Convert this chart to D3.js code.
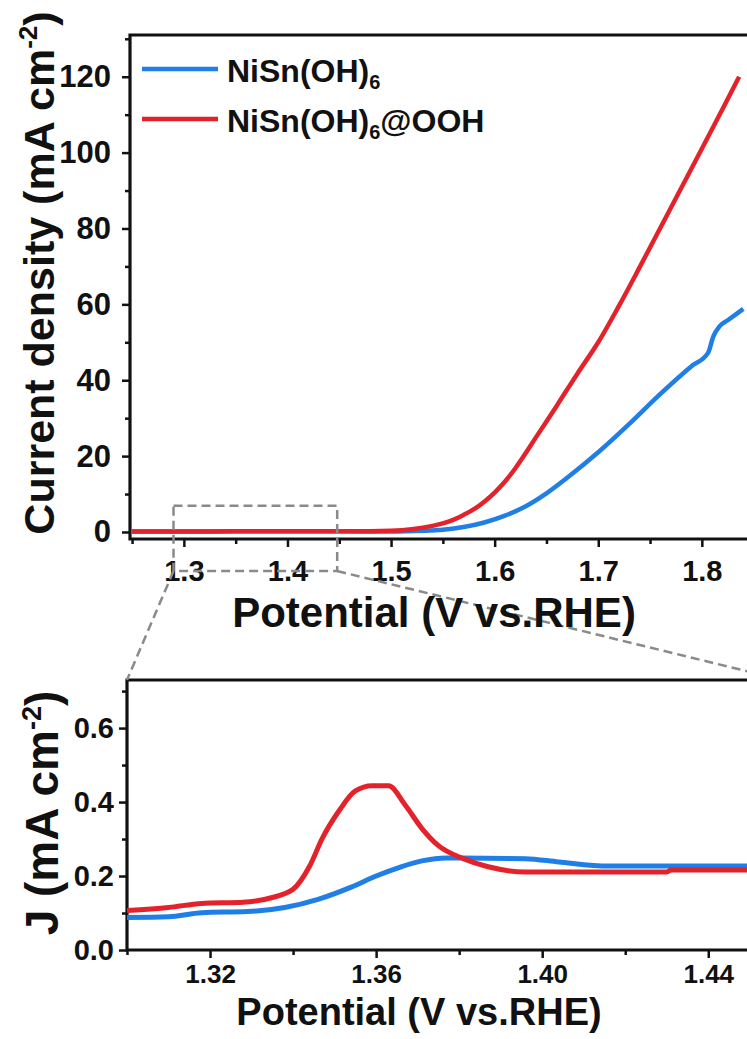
<!DOCTYPE html>
<html>
<head>
<meta charset="utf-8">
<script src="https://cdn.jsdelivr.net/npm/d3@7"></script>
<style>
  body { margin: 0; background: #fff; }
  text { font-family: "Liberation Sans", Arial, sans-serif; font-weight: bold; fill: #111; }
</style>
</head>
<body>
<div id="vis"></div>
<script>
var width = 747
var height = 1039

// top panel, full LSV scan (V vs RHE, mA cm-2)
var vTopBlue = [1.25, 1.30, 1.35, 1.40, 1.45, 1.50, 1.53, 1.55, 1.57, 1.59, 1.61, 1.63, 1.65, 1.67, 1.70, 1.73, 1.76, 1.79, 1.806, 1.811, 1.817, 1.825, 1.84]
var jTopBlue = [0.1, 0.1, 0.2, 0.2, 0.2, 0.1, 0.3, 0.6, 1.3, 2.5, 4.3, 6.8, 10.2, 14.3, 21.0, 28.5, 36.4, 43.7, 47.2, 51.5, 54.2, 55.8, 58.8]
var vTopRed = [1.25, 1.30, 1.35, 1.40, 1.45, 1.48, 1.50, 1.52, 1.54, 1.56, 1.57, 1.58, 1.59, 1.60, 1.61, 1.62, 1.63, 1.64, 1.66, 1.68, 1.70, 1.72, 1.74, 1.76, 1.78, 1.80, 1.82, 1.836]
var jTopRed = [0.1, 0.1, 0.2, 0.2, 0.2, 0.2, 0.3, 0.7, 1.6, 3.2, 4.5, 6.0, 8.0, 10.4, 13.3, 16.8, 20.8, 25.0, 33.3, 41.8, 50.0, 59.6, 69.8, 80.2, 90.6, 101.0, 111.5, 120]

// bottom panel, zoom on the pre-oxidation region
var vBotBlue = [1.300, 1.310, 1.318, 1.329, 1.338, 1.346, 1.354, 1.360, 1.366, 1.371, 1.377, 1.396, 1.404, 1.416, 1.458]
var jBotBlue = [0.088, 0.090, 0.101, 0.104, 0.115, 0.137, 0.170, 0.200, 0.225, 0.241, 0.249, 0.247, 0.238, 0.227, 0.227]
var vBotRed = [1.300, 1.310, 1.318, 1.328, 1.335, 1.340, 1.344, 1.347, 1.351, 1.355, 1.359, 1.363, 1.367, 1.371, 1.375, 1.381, 1.387, 1.396, 1.430, 1.431, 1.458]
var jBotRed = [0.107, 0.115, 0.126, 0.129, 0.142, 0.164, 0.227, 0.301, 0.375, 0.430, 0.444, 0.444, 0.392, 0.329, 0.282, 0.247, 0.225, 0.211, 0.211, 0.216, 0.216]

var seriesNames = ["NiSn(OH)", "NiSn(OH)"]
var seriesColors = ["#1f7fe6", "#e3222b"]

var topXTicks = [1.3, 1.4, 1.5, 1.6, 1.7, 1.8]
var topYTicks = [0, 20, 40, 60, 80, 100, 120]
var botXTicks = [1.32, 1.36, 1.40, 1.44]
var botYTicks = [0.0, 0.2, 0.4, 0.6]

// zoom window marked in the top panel
var zoomV = [1.29, 1.448]
var zoomJ = [-10.3, 6.9]

var svg = d3.select("#vis")
  .append("svg")
  .attr("width", width)
  .attr("height", height)
  .style("display", "block")
  .style("background-color", "white")

var xTop = d3.scaleLinear().domain([1.248, 1.86]).range([130, 764])
var yTop = d3.scaleLinear().domain([-1.85, 131]).range([539, 35])
var xBot = d3.scaleLinear().domain([1.30, 1.458]).range([127, 783])
var yBot = d3.scaleLinear().domain([0, 0.73]).range([950, 680])

function pairs(xs, ys) { return xs.map((v, i) => [v, ys[i]]) }

function drawPanel(x, y, xTicks, yTicks, xMinor, yMinor, fmtX, fmtY, o) {
  var g = svg.append("g")
  var x0 = x.range()[0], x1 = x.range()[1], y0 = y.range()[0], y1 = y.range()[1]

  // minor ticks
  g.append("g").attr("transform", `translate(0,${y0})`)
    .call(d3.axisBottom(x).tickValues(xMinor).tickSize(o.minor).tickFormat("").tickSizeOuter(0))
  g.append("g").attr("transform", `translate(${x0},0)`)
    .call(d3.axisLeft(y).tickValues(yMinor).tickSize(o.minor).tickFormat("").tickSizeOuter(0))

  var ax = g.append("g").attr("transform", `translate(0,${y0})`)
    .call(d3.axisBottom(x).tickValues(xTicks).tickSize(8).tickPadding(o.padX).tickFormat(fmtX).tickSizeOuter(0))
  ax.attr("font-size", o.fsX).attr("font-family", null)
  ax.selectAll("text").style("font-size", o.fsX + "px").attr("fill", "#111")
  var ay = g.append("g").attr("transform", `translate(${x0},0)`)
    .call(d3.axisLeft(y).tickValues(yTicks).tickSize(8).tickPadding(o.padY).tickFormat(fmtY).tickSizeOuter(0))
  ay.attr("font-size", o.fsY).attr("font-family", null)
  ay.selectAll("text").style("font-size", o.fsY + "px").attr("fill", "#111")

  g.selectAll(".tick line").attr("stroke", "#111").attr("stroke-width", 2.5)
  g.selectAll(".domain").remove()

  // frame: left, bottom, top
  g.append("path")
    .attr("d", `M${x1},${y1}H${x0}V${y0}H${x1}`)
    .attr("fill", "none").attr("stroke", "#111").attr("stroke-width", 3.2)
  return g
}

function range(a, b, s) { var r = []; for (var v = a; v <= b + 1e-9; v += s) r.push(+v.toFixed(3)); return r }

drawPanel(xTop, yTop, topXTicks, topYTicks,
  range(1.25, 1.85, 0.05).filter(v => topXTicks.indexOf(v) < 0),
  range(10, 130, 20),
  d3.format(".1f"), d3.format("d"),
  { minor: 5, padX: 13, padY: 11, fsX: 29, fsY: 31 })

drawPanel(xBot, yBot, botXTicks, botYTicks,
  [1.30, 1.34, 1.38, 1.42],
  [0.1, 0.3, 0.5, 0.7],
  d3.format(".2f"), d3.format(".1f"),
  { minor: 5, padX: 7, padY: 5, fsX: 26, fsY: 29 })

// clip
svg.append("clipPath").attr("id", "clipTop").append("rect")
  .attr("x", 130).attr("y", 35).attr("width", 634).attr("height", 504)
svg.append("clipPath").attr("id", "clipBot").append("rect")
  .attr("x", 127).attr("y", 680).attr("width", 656).attr("height", 270)

var lineTop = d3.line().x(d => xTop(d[0])).y(d => yTop(d[1])).curve(d3.curveMonotoneX)
var lineBot = d3.line().x(d => xBot(d[0])).y(d => yBot(d[1])).curve(d3.curveMonotoneX)

var topData = [pairs(vTopBlue, jTopBlue), pairs(vTopRed, jTopRed)]
var botData = [pairs(vBotBlue, jBotBlue), pairs(vBotRed, jBotRed)]

svg.append("g").attr("clip-path", "url(#clipTop)")
  .selectAll("path").data(topData).enter().append("path")
  .attr("d", lineTop)
  .attr("fill", "none")
  .attr("stroke", (d, i) => seriesColors[i])
  .attr("stroke-width", 4.5)
  .attr("stroke-linejoin", "round")

svg.append("g").attr("clip-path", "url(#clipBot)")
  .selectAll("path").data(botData).enter().append("path")
  .attr("d", lineBot)
  .attr("fill", "none")
  .attr("stroke", (d, i) => seriesColors[i])
  .attr("stroke-width", 5)
  .attr("stroke-linejoin", "round")

// legend
var legend = svg.append("g")
seriesNames.forEach(function(name, i) {
  var yy = 69 + i * 50
  legend.append("line")
    .attr("x1", 142).attr("x2", 218).attr("y1", yy).attr("y2", yy)
    .attr("stroke", seriesColors[i]).attr("stroke-width", 4.5)
  var t = legend.append("text").attr("x", 227).attr("y", yy + 13).style("font-size", "32px")
  t.append("tspan").text(name)
  t.append("tspan").text("6").style("font-size", "20px").attr("dy", 7)
  if (i === 1) t.append("tspan").text("@OOH").attr("dy", -7)
})

// zoom box and connectors
var bx0 = xTop(zoomV[0]), bx1 = xTop(zoomV[1]), by0 = yTop(zoomJ[1]), by1 = yTop(zoomJ[0])
var dash = svg.append("g")
  .attr("fill", "none").attr("stroke", "#8a8a8a").attr("stroke-width", 2.5).attr("stroke-dasharray", "9,5")
dash.append("rect").attr("x", bx0).attr("y", by0).attr("width", bx1 - bx0).attr("height", by1 - by0)
dash.append("line").attr("x1", bx0).attr("y1", by1).attr("x2", xBot.range()[0]).attr("y2", yBot.range()[1])
dash.append("line").attr("x1", bx1).attr("y1", by1).attr("x2", xBot.range()[1]).attr("y2", yBot.range()[1])

// axis titles
svg.append("text").attr("x", 434).attr("y", 627).attr("text-anchor", "middle")
  .style("font-size", "42px").text("Potential (V vs.RHE)")
svg.append("text").attr("x", 419).attr("y", 1025).attr("text-anchor", "middle")
  .style("font-size", "38px").text("Potential (V vs.RHE)")

var yt1 = svg.append("text").attr("transform", "translate(54,273) rotate(-90)")
  .attr("text-anchor", "middle").style("font-size", "43px")
yt1.append("tspan").text("Current density (mA cm")
yt1.append("tspan").text("-2").style("font-size", "26px").attr("dy", -17)
yt1.append("tspan").text(")").attr("dy", 17)

var yt2 = svg.append("text").attr("transform", "translate(58,813) rotate(-90)")
  .attr("text-anchor", "middle").style("font-size", "46px")
yt2.append("tspan").text("J (mA cm")
yt2.append("tspan").text("-2").style("font-size", "27px").attr("dy", -17)
yt2.append("tspan").text(")").attr("dy", 17)
</script>
</body>
</html>
